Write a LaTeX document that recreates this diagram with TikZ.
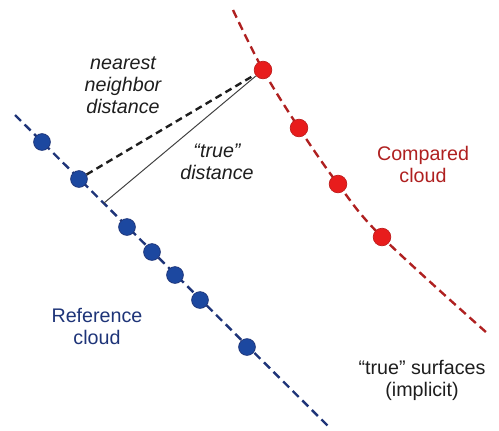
\documentclass[tikz,border=0pt]{standalone}
\usepackage{fontspec}
\setmainfont{Liberation Sans}
\usetikzlibrary{arrows.meta}
\definecolor{refline}{RGB}{30,52,120}
\definecolor{refdot}{RGB}{28,72,160}
\definecolor{cmpline}{RGB}{175,32,32}
\definecolor{cmpdot}{RGB}{232,28,28}
\definecolor{txt}{RGB}{30,30,30}

\begin{document}
\begin{tikzpicture}[x=0.025cm, y=-0.025cm, line width=1.7pt,
    surf/.style = {dash pattern=on 6pt off 3.6pt},
    bluept/.style = {circle, fill=refdot, draw=refline, line width=0.5pt, minimum size=0.42cm, inner sep=0pt},
    redpt/.style = {circle, fill=cmpdot, draw=cmpline!70!cmpdot, line width=0.5pt, minimum size=0.44cm, inner sep=0pt},
    lbl/.style = {align=center, text=txt, font=\fontsize{14}{15.6}\selectfont}]
    \useasboundingbox (0,0) rectangle (499,430);

    % Surfaces
    \coordinate (bs) at (15,115);
    \coordinate (be) at (330,428);
    \coordinate (foot) at (104,203);
    \draw[surf, refline] (bs) -- (be);
    \draw[surf, cmpline] plot[smooth, tension=0.6] coordinates {(233,10) (263,70) (299,128) (338,184) (382,237) (487,333)};

    % Nodes
    \foreach \x [count=\i] in {42,79,127,152,175,200,247}
        \node[bluept] (b\i) at (\x,{\x+100}) {};
    \node[redpt] (r1) at (263,70) {};
    \node[redpt] (r2) at (299,128) {};
    \node[redpt] (r3) at (338,184) {};
    \node[redpt] (r4) at (382,237) {};

    % Distances
    \draw[txt, dash pattern=on 5pt off 3.2pt] (b2) -- (r1);
    \draw[black!75, line width=0.7pt] (foot) -- (r1);

    % Labels
    \node[lbl, font=\fontsize{14}{15.6}\selectfont\itshape] (nn) at (123,85) {nearest\\neighbor\\distance};
    \node[lbl, font=\fontsize{14}{15.6}\selectfont\itshape] (td) at (217,162) {“true”\\distance};
    \node[lbl, text=refline] (rc) at (97,326) {Reference\\cloud};
    \node[lbl, text=cmpline] (cc) at (423,164) {Compared\\cloud};
    \node[lbl] (ts) at (422,380) {“true” surfaces\\(implicit)};
\end{tikzpicture}
\end{document}
